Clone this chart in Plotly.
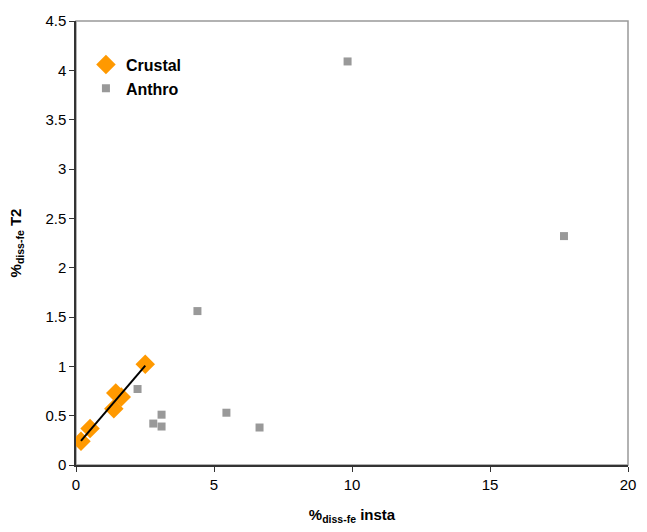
import numpy as np
import plotly.graph_objects as go

crustal_x = [0.18, 0.51, 1.37, 1.44, 1.64, 2.51]
crustal_y = [0.24, 0.37, 0.57, 0.73, 0.69, 1.02]

anthro_x = [2.23, 2.80, 3.10, 3.10, 4.40, 5.45, 6.65, 9.84, 17.68]
anthro_y = [0.77, 0.42, 0.51, 0.39, 1.56, 0.53, 0.38, 4.09, 2.32]

x_ticks = [0, 5, 10, 15, 20]
y_ticks = [0, 0.5, 1, 1.5, 2, 2.5, 3, 3.5, 4, 4.5]
y_tick_labels = ["0", "0.5", "1", "1.5", "2", "2.5", "3", "3.5", "4", "4.5"]

slope, intercept = np.polyfit(crustal_x, crustal_y, 1)
fit_x = [min(crustal_x), max(crustal_x)]
fit_y = [slope * v + intercept for v in fit_x]

font = "Liberation Sans, Arial, sans-serif"

fig = go.Figure()
fig.add_trace(go.Scatter(
    x=anthro_x, y=anthro_y, mode="markers", name="<b>Anthro</b>",
    marker=dict(symbol="square", size=8, color="#999999"),
))
fig.add_trace(go.Scatter(
    x=crustal_x, y=crustal_y, mode="markers", name="<b>Crustal</b>",
    marker=dict(symbol="diamond", size=15, color="#FF9900"),
))
fig.add_trace(go.Scatter(
    x=fit_x, y=fit_y, mode="lines", showlegend=False,
    line=dict(color="black", width=2),
))

fig.add_shape(type="rect", xref="paper", yref="paper", x0=0, y0=0, x1=1, y1=1,
              line=dict(color="#999999", width=1.5), layer="below")

fig.update_layout(
    width=647, height=532,
    margin=dict(l=76, r=11, t=21, b=60),
    paper_bgcolor="white", plot_bgcolor="white",
    font=dict(family=font, size=15, color="black"),
    showlegend=True,
    legend=dict(x=0.018, y=0.94, xanchor="left", yanchor="top",
                traceorder="reversed", itemwidth=30,
                font=dict(size=16, color="black", family=font),
                bgcolor="rgba(0,0,0,0)",
                tracegroupgap=0),
    xaxis=dict(range=[0, 20], tickvals=x_ticks, showgrid=False, zeroline=False,
               showline=True, linecolor="#333333", linewidth=1.5,
               ticks="outside", ticklen=5, tickcolor="#333333",
               tickfont=dict(size=15),
               title=dict(text="<b>%<sub>diss-fe</sub> insta</b>", font=dict(size=15, color="black"),
                          standoff=18)),
    yaxis=dict(range=[0, 4.5], tickvals=y_ticks, ticktext=y_tick_labels,
               showgrid=False, zeroline=False,
               showline=True, linecolor="#333333", linewidth=1.5,
               ticks="outside", ticklen=5, tickcolor="#333333",
               tickfont=dict(size=15),
               title=dict(text="<b>%<sub>diss-fe</sub> T2</b>", font=dict(size=15, color="black"),
                          standoff=20)),
)

fig.write_html("out.html", config={"displayModeBar": False},
               post_script="document.body.style.margin='0';")
